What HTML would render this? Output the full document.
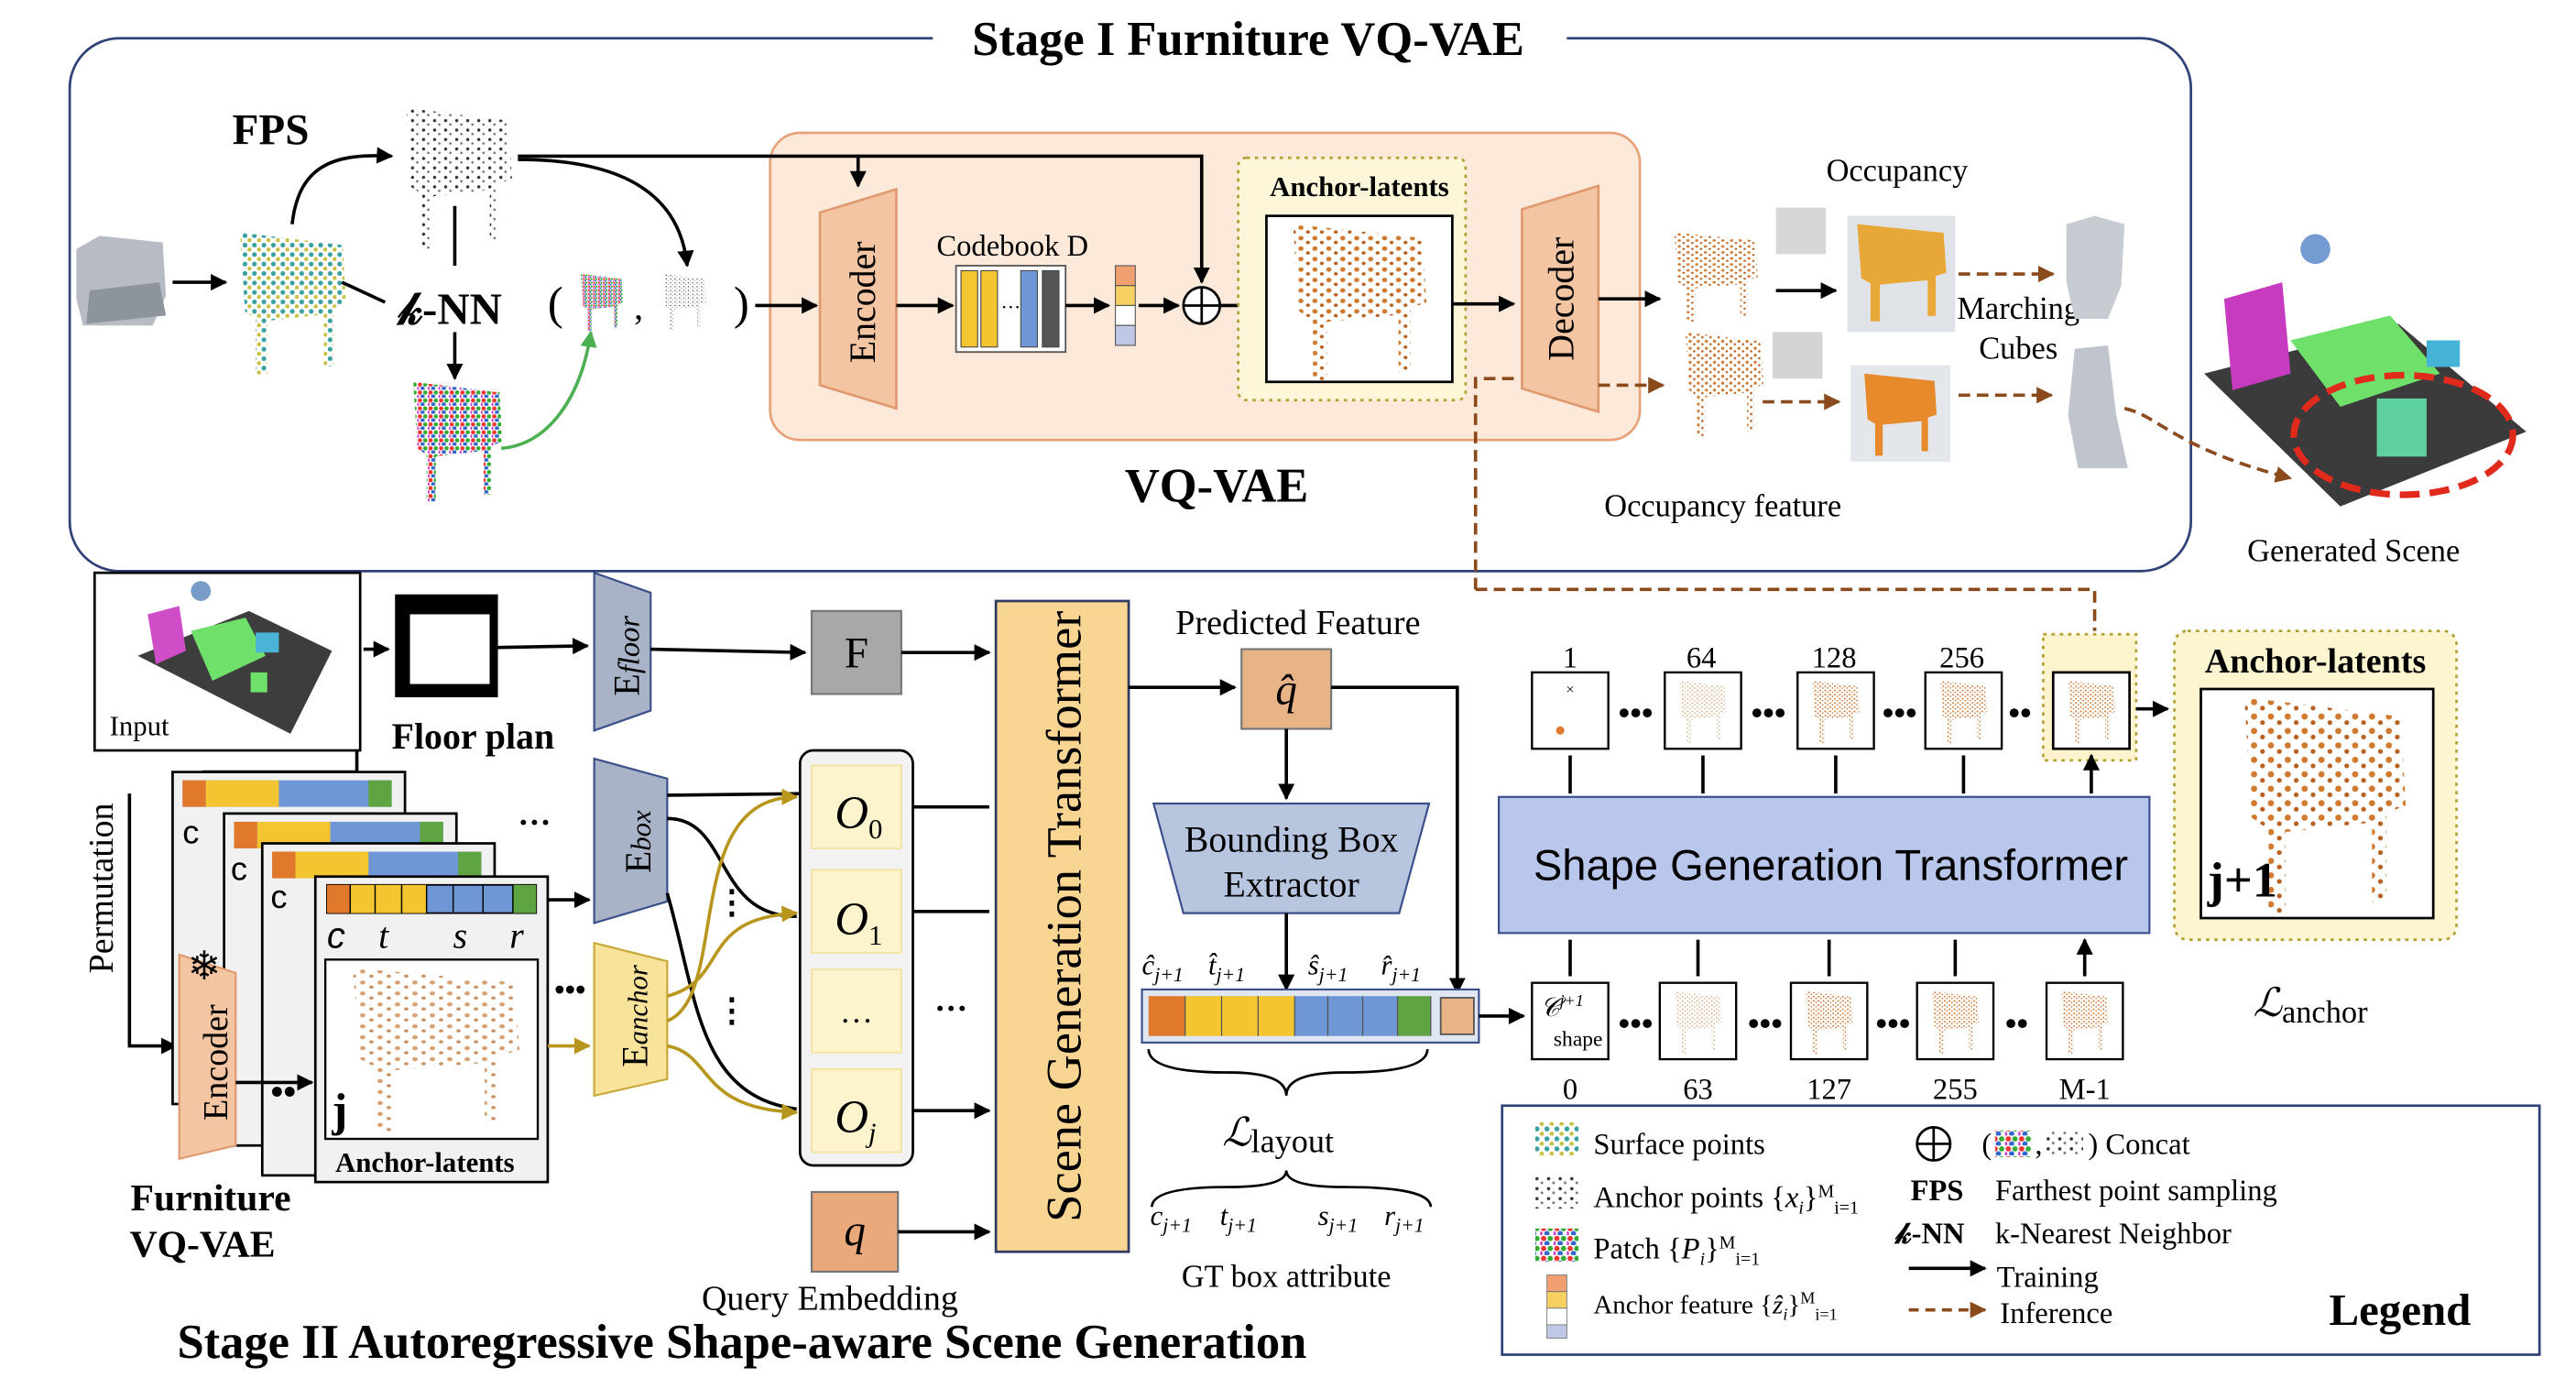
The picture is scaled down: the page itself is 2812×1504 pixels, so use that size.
<!DOCTYPE html>
<html><head><meta charset="utf-8"><style>
html,body{margin:0;padding:0;background:#fff;width:2812px;height:1504px;overflow:hidden}
svg{display:block}
text{font-family:"Liberation Serif",serif;fill:#000}
.s{font-family:"Liberation Sans",sans-serif}
</style></head><body>
<svg width="2812" height="1504" viewBox="0 0 1552 830" xmlns="http://www.w3.org/2000/svg">
<defs>
<marker id="a" viewBox="0 0 10 10" refX="9" refY="5" markerWidth="5" markerHeight="5" orient="auto"><path d="M0,0L10,5L0,10z" fill="#000"/></marker>
<marker id="ab" viewBox="0 0 10 10" refX="9" refY="5" markerWidth="5" markerHeight="5" orient="auto"><path d="M0,0L10,5L0,10z" fill="#8b4a1c"/></marker>
<marker id="ag" viewBox="0 0 10 10" refX="9" refY="5" markerWidth="5" markerHeight="5" orient="auto"><path d="M0,0L10,5L0,10z" fill="#b8961e"/></marker>
<marker id="agr" viewBox="0 0 10 10" refX="9" refY="5" markerWidth="5" markerHeight="5" orient="auto"><path d="M0,0L10,5L0,10z" fill="#4caf50"/></marker>
<pattern id="po" width="7" height="6" patternUnits="userSpaceOnUse"><circle cx="2" cy="2" r="1.3" fill="#d07a30"/><circle cx="5.5" cy="4.5" r="1" fill="#b86020"/></pattern>
<pattern id="pg" width="7" height="6" patternUnits="userSpaceOnUse"><circle cx="2" cy="2" r="1" fill="#333"/><circle cx="5" cy="4.5" r="0.8" fill="#777"/></pattern>
<pattern id="pr" width="8" height="6" patternUnits="userSpaceOnUse"><circle cx="2" cy="2" r="1.6" fill="#e33"/><circle cx="6" cy="2" r="1.6" fill="#3a3"/><circle cx="4" cy="5" r="1.6" fill="#36c"/><circle cx="0" cy="5" r="1.4" fill="#c3c"/></pattern>
<pattern id="pt" width="6" height="6" patternUnits="userSpaceOnUse"><circle cx="2" cy="2" r="1.5" fill="#3aa0a0"/><circle cx="5" cy="5" r="1.4" fill="#c8c040"/></pattern>
<pattern id="pl" width="7" height="6" patternUnits="userSpaceOnUse"><circle cx="2" cy="2" r="1.1" fill="#d8a070"/><circle cx="5.5" cy="4.5" r="0.9" fill="#c89060"/></pattern>
<g id="chair"><path d="M5,0 L70,8 L72,45 L64,48 L64,85 L58,85 L58,52 L22,56 L22,90 L15,90 L15,55 L8,50 Z"/></g>
</defs>

<rect x="42" y="23" width="1278" height="321" rx="30" fill="none" stroke="#2f4177" stroke-width="1.5"/>
<rect x="562" y="6" width="382" height="34" fill="#fff"/>
<text x="752" y="33" font-size="29" font-weight="bold" text-anchor="middle">Stage I  Furniture VQ-VAE</text>

<rect x="464" y="80" width="524" height="185" rx="18" fill="#fce9da" stroke="#e6a37a" stroke-width="1.5"/>
<text x="733" y="302" font-size="29" font-weight="bold" text-anchor="middle">VQ-VAE</text>

<path d="M46,150 L60,142 L98,146 L100,178 L92,196 L50,196 L46,180 Z" fill="#b7bcc4"/>
<path d="M54,175 L96,170 L100,190 L52,195Z" fill="#8e949c"/>
<line x1="104" y1="170" x2="136" y2="170" stroke="#000" stroke-width="2" marker-end="url(#a)"/>
<g transform="translate(140,140) scale(0.95)" fill="url(#pt)"><use href="#chair"/></g>
<text x="140" y="87" font-size="26" font-weight="bold">FPS</text>
<path d="M176,135 C180,100 200,92 236,94" fill="none" stroke="#000" stroke-width="2" marker-end="url(#a)"/>
<g transform="translate(240,65) scale(0.95)" fill="url(#pg)"><use href="#chair"/></g>
<line x1="274" y1="124" x2="274" y2="160" stroke="#000" stroke-width="2"/>
<text x="240" y="195" font-size="27" font-weight="bold">𝓀-NN</text>
<path d="M206,170 L232,182" stroke="#000" stroke-width="2"/>
<line x1="274" y1="200" x2="274" y2="228" stroke="#000" stroke-width="2" marker-end="url(#a)"/>
<g transform="translate(245,230) scale(0.8)" fill="url(#pr)"><use href="#chair"/></g>
<path d="M302,270 C330,268 350,240 356,200" fill="none" stroke="#4caf50" stroke-width="2" marker-end="url(#agr)"/>
<text x="330" y="192" font-size="28">(</text>
<g transform="translate(348,165) scale(0.38)" fill="url(#pr)"><use href="#chair"/></g>
<text x="382" y="192" font-size="22">,</text>
<g transform="translate(398,165) scale(0.38)" fill="url(#pg)"><use href="#chair"/></g>
<text x="442" y="192" font-size="28">)</text>
<path d="M312,96 C380,96 410,120 414,160" fill="none" stroke="#000" stroke-width="2" marker-end="url(#a)"/>
<line x1="455" y1="184" x2="492" y2="184" stroke="#000" stroke-width="2" marker-end="url(#a)"/>
<path d="M312,94 L724,94 L724,170" fill="none" stroke="#000" stroke-width="2" marker-end="url(#a)"/>
<line x1="517" y1="94" x2="517" y2="112" stroke="#000" stroke-width="2" marker-end="url(#a)"/>

<path d="M494,128 L540,114 L540,246 L494,232 Z" fill="#f3c5a2" stroke="#e09a70" stroke-width="1.5"/>
<text transform="translate(527,182) rotate(-90)" font-size="22" text-anchor="middle">Encoder</text>
<line x1="540" y1="184" x2="574" y2="184" stroke="#000" stroke-width="2" marker-end="url(#a)"/>
<text x="610" y="154" font-size="18" text-anchor="middle">Codebook D</text>
<rect x="576" y="160" width="66" height="52" fill="#fff" stroke="#555"/>
<rect x="579" y="163" width="10" height="46" fill="#f3c530" stroke="#444" stroke-width=".6"/>
<rect x="591" y="163" width="10" height="46" fill="#f3c530" stroke="#444" stroke-width=".6"/>
<text x="603" y="189" font-size="12">···</text>
<rect x="615" y="163" width="10" height="46" fill="#6f97d6" stroke="#444" stroke-width=".6"/>
<rect x="628" y="163" width="10" height="46" fill="#555" stroke="#444" stroke-width=".6"/>
<line x1="642" y1="184" x2="668" y2="184" stroke="#000" stroke-width="2" marker-end="url(#a)"/>
<rect x="672" y="160" width="12" height="12" fill="#f0a070" stroke="#555" stroke-width=".6"/>
<rect x="672" y="172" width="12" height="12" fill="#f6d060" stroke="#555" stroke-width=".6"/>
<rect x="672" y="184" width="12" height="12" fill="#fff" stroke="#555" stroke-width=".6"/>
<rect x="672" y="196" width="12" height="12" fill="#c0c8e6" stroke="#555" stroke-width=".6"/>
<line x1="686" y1="184" x2="710" y2="184" stroke="#000" stroke-width="2" marker-end="url(#a)"/>
<circle cx="724" cy="184" r="11" fill="#fff" stroke="#000" stroke-width="1.5"/>
<path d="M713,184H735M724,173V195" stroke="#000" stroke-width="1.5"/>
<line x1="735" y1="184" x2="762" y2="184" stroke="#000" stroke-width="2" marker-end="url(#a)"/>
<rect x="746" y="95" width="137" height="146" rx="5" fill="#fdf6d8" stroke="#b3a035" stroke-width="1.5" stroke-dasharray="2,3"/>
<text x="819" y="118" font-size="17" font-weight="bold" text-anchor="middle">Anchor-latents</text>
<rect x="763" y="130" width="112" height="100" fill="#fff" stroke="#000" stroke-width="1.5"/>
<g transform="translate(773,135) scale(1.2,1.05)" fill="url(#po)"><use href="#chair"/></g>
<line x1="875" y1="183" x2="912" y2="183" stroke="#000" stroke-width="2" marker-end="url(#a)"/>
<path d="M917,126 L963,112 L963,248 L917,234 Z" fill="#f3c5a2" stroke="#e09a70" stroke-width="1.5"/>
<text transform="translate(948,180) rotate(-90)" font-size="22" text-anchor="middle">Decoder</text>
<line x1="963" y1="180" x2="1000" y2="180" stroke="#000" stroke-width="2" marker-end="url(#a)"/>
<path d="M889,355 L889,228 L914,228" fill="none" stroke="#8b4a1c" stroke-width="2" stroke-dasharray="7,4"/>
<line x1="963" y1="232" x2="1002" y2="232" stroke="#8b4a1c" stroke-width="2" stroke-dasharray="7,4" marker-end="url(#ab)"/>
<text x="1143" y="109" font-size="19" text-anchor="middle">Occupancy</text>
<g transform="translate(1005,140) scale(0.75,0.6)" fill="url(#po)"><use href="#chair"/></g>
<rect x="1070" y="125" width="30" height="28" fill="#bbb" opacity=".6"/>
<line x1="1070" y1="175" x2="1106" y2="175" stroke="#000" stroke-width="2" marker-end="url(#a)"/>
<rect x="1113" y="130" width="65" height="70" fill="#dfe2e6"/>
<g transform="translate(1115,135) scale(0.8,0.65)" fill="#e8a838"><use href="#chair"/></g>
<text x="1216" y="192" font-size="19" text-anchor="middle">Marching</text>
<text x="1216" y="216" font-size="19" text-anchor="middle">Cubes</text>
<line x1="1180" y1="165" x2="1237" y2="165" stroke="#8b4a1c" stroke-width="2" stroke-dasharray="7,4" marker-end="url(#ab)"/>
<path d="M1245,135 L1262,130 L1280,135 L1278,172 L1270,192 L1250,192 L1245,170Z" fill="#c7cbd2"/>
<g transform="translate(1012,200) scale(0.7,0.7)" fill="url(#po)"><use href="#chair"/></g>
<rect x="1068" y="200" width="30" height="28" fill="#aaa" opacity=".5"/>
<line x1="1062" y1="242" x2="1108" y2="242" stroke="#8b4a1c" stroke-width="2" stroke-dasharray="7,4" marker-end="url(#ab)"/>
<rect x="1115" y="220" width="60" height="58" fill="#e3e6ea"/>
<g transform="translate(1120,225) scale(0.65,0.55)" fill="#e68a2c"><use href="#chair"/></g>
<line x1="1180" y1="238" x2="1236" y2="238" stroke="#8b4a1c" stroke-width="2" stroke-dasharray="7,4" marker-end="url(#ab)"/>
<path d="M1250,210 L1270,208 L1275,250 L1282,282 L1252,282 L1246,250Z" fill="#c0c5cd"/>
<path d="M1280,246 C1300,250 1310,270 1380,288" fill="none" stroke="#8b4a1c" stroke-width="2" stroke-dasharray="7,4" marker-end="url(#ab)"/>
<text x="1038" y="311" font-size="19" text-anchor="middle">Occupancy feature</text>
<path d="M1328,225 L1445,195 L1522,260 L1410,305 Z" fill="#3b3b3b"/>
<path d="M1340,180 L1375,170 L1380,225 L1345,235Z" fill="#c63bc0"/>
<path d="M1380,205 L1440,190 L1470,225 L1410,245Z" fill="#6fe06a"/>
<rect x="1462" y="205" width="20" height="16" fill="#45b3d6"/>
<rect x="1432" y="240" width="30" height="35" fill="#5fd0a0"/>
<circle cx="1395" cy="150" r="9" fill="#3a70c0" opacity=".7"/>
<ellipse cx="1448" cy="262" rx="66" ry="36" fill="none" stroke="#e02a1c" stroke-width="4" stroke-dasharray="12,6"/>
<text x="1418" y="338" font-size="19" text-anchor="middle">Generated Scene</text>
<path d="M889,355 L1262,355 L1262,380" fill="none" stroke="#8b4a1c" stroke-width="2" stroke-dasharray="7,4"/>

<rect x="57" y="345" width="160" height="107" fill="#fff" stroke="#000" stroke-width="1.5"/>
<path d="M83,395 L150,368 L200,392 L175,442 Z" fill="#3d3d3d"/>
<path d="M89,370 L108,365 L112,392 L94,400Z" fill="#d04dc8"/>
<path d="M115,380 L148,372 L160,395 L128,410Z" fill="#6fe06a"/>
<rect x="154" y="381" width="14" height="12" fill="#4bb4d6"/>
<rect x="151" y="405" width="10" height="12" fill="#6fe06a"/>
<circle cx="121" cy="356" r="6" fill="#4070b0" opacity=".7"/>
<text x="66" y="443" font-size="17">Input</text>
<line x1="219" y1="391" x2="234" y2="391" stroke="#000" stroke-width="2" marker-end="url(#a)"/>
<rect x="238" y="358" width="62" height="62" fill="#000"/>
<rect x="247" y="370" width="48" height="42" fill="#fff"/>
<text x="285" y="451" font-size="22" font-weight="bold" text-anchor="middle">Floor plan</text>
<line x1="300" y1="390" x2="354" y2="389" stroke="#000" stroke-width="2" marker-end="url(#a)"/>
<path d="M358,345 L392,357 L392,428 L358,440Z" fill="#a9b3c8" stroke="#3b4f8a" stroke-width="1.2"/>
<text transform="translate(385,395) rotate(-90)" font-size="22" text-anchor="middle">E<tspan font-style="italic" font-size="18">floor</tspan></text>
<line x1="392" y1="391" x2="485" y2="393" stroke="#000" stroke-width="2" marker-end="url(#a)"/>
<rect x="489" y="368" width="54" height="50" fill="#a8a8a8" stroke="#777" stroke-width="1.2"/>
<text x="516" y="402" font-size="26" text-anchor="middle">F</text>
<line x1="543" y1="393" x2="596" y2="393" stroke="#000" stroke-width="2" marker-end="url(#a)"/>

<path d="M215,452 L215,465 L123,465 L123,630 L104,630" fill="none" stroke="#000" stroke-width="2"/>
<path d="M78,478 L78,630 L106,630" fill="none" stroke="#000" stroke-width="2" marker-end="url(#a)"/>
<text transform="translate(68,535) rotate(-90)" font-size="21" text-anchor="middle">Permutation</text>
<g>
<rect x="104" y="465" width="140" height="200" fill="#f1f1f1" stroke="#000" stroke-width="1.5"/>
<rect x="110" y="470" width="126" height="16" fill="#6f97d6"/><rect x="110" y="470" width="14" height="16" fill="#e0792c"/><rect x="124" y="470" width="44" height="16" fill="#f2c531"/><rect x="222" y="470" width="14" height="16" fill="#5ea443"/>
<text x="110" y="508" font-size="20" fill="#e0792c" class="s">c</text>
<rect x="135" y="490" width="140" height="200" fill="#f1f1f1" stroke="#000" stroke-width="1.5"/>
<rect x="141" y="495" width="126" height="16" fill="#6f97d6"/><rect x="141" y="495" width="14" height="16" fill="#e0792c"/><rect x="155" y="495" width="44" height="16" fill="#f2c531"/><rect x="253" y="495" width="14" height="16" fill="#5ea443"/>
<text x="139" y="530" font-size="20" fill="#e0792c" class="s">c</text>
<rect x="158" y="508" width="140" height="200" fill="#f1f1f1" stroke="#000" stroke-width="1.5"/>
<rect x="164" y="513" width="126" height="16" fill="#6f97d6"/><rect x="164" y="513" width="14" height="16" fill="#e0792c"/><rect x="178" y="513" width="44" height="16" fill="#f2c531"/><rect x="276" y="513" width="14" height="16" fill="#5ea443"/>
<text x="163" y="547" font-size="20" fill="#e0792c" class="s">c</text>
<rect x="190" y="528" width="140" height="184" fill="#f1f1f1" stroke="#000" stroke-width="1.5"/>
<rect x="197" y="533" width="126" height="17" fill="#6f97d6" stroke="#000"/><rect x="197" y="533" width="14" height="17" fill="#e0792c"/><rect x="211" y="533" width="46" height="17" fill="#f2c531"/><rect x="309" y="533" width="14" height="17" fill="#5ea443"/>
<path d="M211,533V550M226,533V550M242,533V550M257,533V550M273,533V550M291,533V550M309,533V550" stroke="#000" stroke-width=".8"/>
<text x="197" y="571" font-size="22" fill="#e0792c" font-style="italic" class="s">c</text>
<text x="228" y="571" font-size="22" fill="#f2c531" font-style="italic">t</text>
<text x="273" y="571" font-size="22" fill="#6f97d6" font-style="italic">s</text>
<text x="307" y="571" font-size="22" fill="#5ea443" font-style="italic">r</text>
<rect x="196" y="578" width="128" height="108" fill="#fff" stroke="#000" stroke-width="1.3"/>
<g transform="translate(205,583) scale(1.5,1.1)" fill="url(#pl)"><use href="#chair"/></g>
<text x="200" y="678" font-size="28" font-weight="bold">j</text>
<text x="256" y="706" font-size="17" font-weight="bold" text-anchor="middle">Anchor-latents</text>
<text x="312" y="502" font-size="20" font-weight="bold">···</text>
<text x="163" y="665" font-size="22" font-weight="bold">••</text>
</g>
<path d="M108,575 L142,586 L142,690 L108,698Z" fill="#f3c5a2" stroke="#e09a70" stroke-width="1.2"/>
<text x="113" y="590" font-size="24" fill="#5a8ed6">❄</text>
<text transform="translate(137,640) rotate(-90)" font-size="21" text-anchor="middle">Encoder</text>
<line x1="142" y1="652" x2="188" y2="652" stroke="#000" stroke-width="2" marker-end="url(#a)"/>
<text x="127" y="729" font-size="23" font-weight="bold" text-anchor="middle">Furniture</text>
<text x="122" y="757" font-size="23" font-weight="bold" text-anchor="middle">VQ-VAE</text>
<line x1="330" y1="542" x2="355" y2="542" stroke="#000" stroke-width="2" marker-end="url(#a)"/>
<line x1="330" y1="630" x2="355" y2="630" stroke="#b8961e" stroke-width="2" marker-end="url(#ag)"/>
<text x="334" y="602" font-size="18" fill="#b8961e" font-weight="bold">•••</text>

<path d="M358,457 L402,469 L402,543 L358,556Z" fill="#a9b3c8" stroke="#3b4f8a" stroke-width="1.2"/>
<text transform="translate(392,507) rotate(-90)" font-size="22" text-anchor="middle">E<tspan font-style="italic" font-size="17">box</tspan></text>
<path d="M358,568 L402,579 L402,650 L358,660Z" fill="#f7e39a" stroke="#c8a838" stroke-width="1.2"/>
<text transform="translate(390,612) rotate(-90)" font-size="22" text-anchor="middle">E<tspan font-style="italic" font-size="17">anchor</tspan></text>
<path d="M402,479 L484,478" fill="none" stroke="#000" stroke-width="2"/>
<path d="M402,493 C440,493 430,552 480,552" fill="none" stroke="#000" stroke-width="2"/>
<path d="M402,538 C420,600 420,660 480,668" fill="none" stroke="#000" stroke-width="2"/>
<path d="M402,615 C440,600 410,480 480,480" fill="none" stroke="#b8961e" stroke-width="2" marker-end="url(#ag)"/>
<path d="M402,600 C440,590 420,553 480,550" fill="none" stroke="#b8961e" stroke-width="2" marker-end="url(#ag)"/>
<path d="M402,630 C430,635 420,668 480,670" fill="none" stroke="#b8961e" stroke-width="2" marker-end="url(#ag)"/>
<text x="431" y="550" font-size="20" font-weight="bold">⋮</text>
<text x="431" y="615" font-size="20" font-weight="bold" fill="#b8961e">⋮</text>
<rect x="482" y="452" width="68" height="250" rx="8" fill="#f2f2f2" stroke="#000" stroke-width="1.5"/>
<rect x="489" y="461" width="54" height="50" fill="#fdf3cc" stroke="#f3e3a0"/>
<rect x="489" y="524" width="54" height="50" fill="#fdf3cc" stroke="#f3e3a0"/>
<rect x="489" y="584" width="54" height="50" fill="#fdf3cc" stroke="#f3e3a0"/>
<rect x="489" y="644" width="54" height="50" fill="#fdf3cc" stroke="#f3e3a0"/>
<text x="503" y="499" font-size="28" font-style="italic">O<tspan font-size="17" dy="6" font-style="normal">0</tspan></text>
<text x="503" y="563" font-size="28" font-style="italic">O<tspan font-size="17" dy="6" font-style="normal">1</tspan></text>
<text x="516" y="616" font-size="20" text-anchor="middle">…</text>
<text x="503" y="682" font-size="28" font-style="italic">O<tspan font-size="17" dy="6" font-style="italic">j</tspan></text>
<path d="M550,486H596M550,549H596M550,669H596" stroke="#000" stroke-width="2" marker-end="url(#a)"/>
<text x="573" y="614" font-size="20" font-weight="bold" text-anchor="middle">···</text>
<rect x="489" y="718" width="52" height="48" fill="#e9a97b" stroke="#777" stroke-width="1.2"/>
<text x="515" y="750" font-size="26" font-style="italic" text-anchor="middle">q</text>
<line x1="541" y1="742" x2="596" y2="742" stroke="#000" stroke-width="2" marker-end="url(#a)"/>
<text x="500" y="789" font-size="21" text-anchor="middle">Query Embedding</text>
<rect x="600" y="362" width="80" height="392" fill="#f9d593" stroke="#2f3b60" stroke-width="1.5"/>
<text transform="translate(651,552) rotate(-90)" font-size="30" text-anchor="middle">Scene Generation Transformer</text>
<text x="782" y="382" font-size="21" text-anchor="middle">Predicted Feature</text>
<line x1="680" y1="414" x2="744" y2="414" stroke="#000" stroke-width="2" marker-end="url(#a)"/>
<rect x="748" y="391" width="54" height="48" fill="#e8b386" stroke="#777" stroke-width="1.2"/>
<text x="775" y="424" font-size="26" font-style="italic" text-anchor="middle">q̂</text>
<path d="M802,414 L878,414 L878,598" fill="none" stroke="#000" stroke-width="2" marker-end="url(#a)"/>
<line x1="775" y1="439" x2="775" y2="481" stroke="#000" stroke-width="2" marker-end="url(#a)"/>
<path d="M695,484 L861,484 L843,550 L713,550Z" fill="#b8c5df" stroke="#3b4f8a" stroke-width="1.2"/>
<text x="778" y="513" font-size="22" text-anchor="middle">Bounding Box</text>
<text x="778" y="540" font-size="22" text-anchor="middle">Extractor</text>
<line x1="775" y1="550" x2="775" y2="596" stroke="#000" stroke-width="2" marker-end="url(#a)"/>
<text x="688" y="587" font-size="17" font-style="italic" fill="#e0792c">ĉ<tspan font-size="12" dy="4">j+1</tspan></text>
<text x="728" y="587" font-size="17" font-style="italic" fill="#e3b52a">t̂<tspan font-size="12" dy="4">j+1</tspan></text>
<text x="788" y="587" font-size="17" font-style="italic" fill="#5a8ed6">ŝ<tspan font-size="12" dy="4">j+1</tspan></text>
<text x="832" y="587" font-size="17" font-style="italic" fill="#5ea443">r̂<tspan font-size="12" dy="4">j+1</tspan></text>
<rect x="688" y="596" width="203" height="32" fill="#dfe6f2" stroke="#3b4f8a" stroke-width="1.2"/>
<rect x="692" y="600" width="22" height="24" fill="#e0792c"/>
<rect x="714" y="600" width="66" height="24" fill="#f2c531"/>
<rect x="780" y="600" width="62" height="24" fill="#6f97d6"/>
<rect x="842" y="600" width="20" height="24" fill="#5ea443"/>
<path d="M714,600V624M736,600V624M758,600V624M780,600V624M800,600V624M821,600V624M842,600V624M862,600V624" stroke="#555" stroke-width=".7"/>
<rect x="868" y="601" width="20" height="22" fill="#e8b386" stroke="#555"/>
<path d="M692,632 Q692,646 740,646 Q775,646 775,660 Q775,646 810,646 Q860,646 860,632" fill="none" stroke="#000" stroke-width="1.5"/>
<text x="770" y="690" font-size="24" font-style="italic" text-anchor="middle">ℒ<tspan font-style="normal" font-size="20" dy="4">layout</tspan></text>
<path d="M694,727 Q694,715 740,715 Q775,715 775,705 Q775,715 810,715 Q862,715 862,727" fill="none" stroke="#000" stroke-width="1.5"/>
<text x="693" y="738" font-size="17" font-style="italic" fill="#e0792c">c<tspan font-size="12" dy="4">j+1</tspan></text>
<text x="735" y="738" font-size="17" font-style="italic" fill="#e3b52a">t<tspan font-size="12" dy="4">j+1</tspan></text>
<text x="794" y="738" font-size="17" font-style="italic" fill="#5a8ed6">s<tspan font-size="12" dy="4">j+1</tspan></text>
<text x="834" y="738" font-size="17" font-style="italic" fill="#5ea443">r<tspan font-size="12" dy="4">j+1</tspan></text>
<text x="775" y="775" font-size="19" text-anchor="middle">GT box attribute</text>

<line x1="891" y1="612" x2="918" y2="612" stroke="#000" stroke-width="2" marker-end="url(#a)"/>
<rect x="903" y="480" width="392" height="82" fill="#b9c7ec" stroke="#3b4f8a" stroke-width="1.2"/>
<text x="1103" y="530" font-size="26" text-anchor="middle" class="s">Shape Generation Transformer</text>
<g font-size="18" text-anchor="middle">
<text x="946" y="402">1</text><text x="1025" y="402">64</text><text x="1105" y="402">128</text><text x="1182" y="402">256</text><text x="1259" y="402">M</text>
<text x="946" y="662">0</text><text x="1023" y="662">63</text><text x="1102" y="662">127</text><text x="1178" y="662">255</text><text x="1256" y="662">M-1</text>
</g>
<rect x="1231" y="382" width="56" height="76" fill="#fdf3cc" stroke="#b3a035" stroke-width="1.5" stroke-dasharray="2,3"/>
<rect x="923" y="405" width="46" height="46" fill="#fff" stroke="#000" stroke-width="1.3"/>
<text x="946" y="418" font-size="9" text-anchor="middle">×</text><circle cx="940" cy="440" r="2.5" fill="#e0792c"/>
<rect x="1003" y="405" width="46" height="46" fill="#fff" stroke="#000" stroke-width="1.3"/>
<g transform="translate(1010,410) scale(0.42)" fill="url(#pl)"><use href="#chair"/></g>
<rect x="1083" y="405" width="46" height="46" fill="#fff" stroke="#000" stroke-width="1.3"/>
<g transform="translate(1090,410) scale(0.42)" fill="url(#po)"><use href="#chair"/></g>
<rect x="1160" y="405" width="46" height="46" fill="#fff" stroke="#000" stroke-width="1.3"/>
<g transform="translate(1167,410) scale(0.42)" fill="url(#po)"><use href="#chair"/></g>
<rect x="1237" y="405" width="46" height="46" fill="#fff" stroke="#000" stroke-width="1.5"/>
<g transform="translate(1244,410) scale(0.42)" fill="url(#po)"><use href="#chair"/></g>
<g font-size="20" font-weight="bold"><text x="975" y="436">•••</text><text x="1055" y="436">•••</text><text x="1134" y="436">•••</text><text x="1210" y="436">••</text>
<text x="975" y="623">•••</text><text x="1053" y="623">•••</text><text x="1130" y="623">•••</text><text x="1208" y="623">••</text></g>
<path d="M946,478V455M1026,478V455M1106,478V455M1183,478V455M1260,478V455" stroke="#000" stroke-width="2" marker-end="url(#a)"/>
<path d="M946,588V566M1023,588V566M1102,588V566M1178,588V566M1256,588V566" stroke="#000" stroke-width="2" marker-end="url(#a)"/>
<rect x="923" y="592" width="46" height="46" fill="#fff" stroke="#000" stroke-width="1.3"/>
<text x="928" y="612" font-size="16" font-style="italic">𝒞<tspan font-size="10" dy="-6">j+1</tspan></text>
<text x="936" y="630" font-size="13">shape</text>
<rect x="1000" y="592" width="46" height="46" fill="#fff" stroke="#000" stroke-width="1.3"/>
<g transform="translate(1007,597) scale(0.42)" fill="url(#pl)"><use href="#chair"/></g>
<rect x="1079" y="592" width="46" height="46" fill="#fff" stroke="#000" stroke-width="1.3"/>
<g transform="translate(1086,597) scale(0.42)" fill="url(#po)"><use href="#chair"/></g>
<rect x="1155" y="592" width="46" height="46" fill="#fff" stroke="#000" stroke-width="1.3"/>
<g transform="translate(1162,597) scale(0.42)" fill="url(#po)"><use href="#chair"/></g>
<rect x="1233" y="592" width="46" height="46" fill="#fff" stroke="#000" stroke-width="1.3"/>
<g transform="translate(1240,597) scale(0.42)" fill="url(#po)"><use href="#chair"/></g>
<line x1="1287" y1="427" x2="1306" y2="427" stroke="#000" stroke-width="2" marker-end="url(#a)"/>
<rect x="1310" y="380" width="170" height="186" rx="8" fill="#fdf5cf" stroke="#b3a035" stroke-width="1.5" stroke-dasharray="2,3"/>
<text x="1395" y="405" font-size="21" font-weight="bold" text-anchor="middle">Anchor-latents</text>
<rect x="1326" y="415" width="140" height="138" fill="#fff" stroke="#000" stroke-width="1.5"/>
<g transform="translate(1345,420) scale(1.45,1.45)" fill="url(#po)"><use href="#chair"/></g>
<text x="1330" y="540" font-size="30" font-weight="bold">j+1</text>
<text x="1392" y="612" font-size="24" font-style="italic" text-anchor="middle">ℒ<tspan font-style="normal" font-size="19" dy="4">anchor</tspan></text>

<rect x="905" y="666" width="625" height="150" fill="#fff" stroke="#2f4177" stroke-width="1.5"/>
<rect x="925" y="676" width="26" height="20" fill="url(#pt)"/>
<text x="960" y="695" font-size="18">Surface points</text>
<rect x="925" y="708" width="26" height="20" fill="url(#pg)"/>
<text x="960" y="727" font-size="18">Anchor points {<tspan font-style="italic">x<tspan font-size="11" dy="4">i</tspan></tspan><tspan dy="-4">}</tspan><tspan font-size="11" dy="-6">M</tspan><tspan font-size="11" dy="10">i=1</tspan></text>
<rect x="925" y="740" width="26" height="20" fill="url(#pr)"/>
<text x="960" y="758" font-size="18">Patch {<tspan font-style="italic">P<tspan font-size="11" dy="4">i</tspan></tspan><tspan dy="-4">}</tspan><tspan font-size="11" dy="-6">M</tspan><tspan font-size="11" dy="10">i=1</tspan></text>
<rect x="932" y="768" width="12" height="10" fill="#f0a070" stroke="#777" stroke-width=".5"/><rect x="932" y="778" width="12" height="10" fill="#f6d060" stroke="#777" stroke-width=".5"/><rect x="932" y="788" width="12" height="10" fill="#fff" stroke="#777" stroke-width=".5"/><rect x="932" y="798" width="12" height="8" fill="#c0c8e6" stroke="#777" stroke-width=".5"/>
<text x="960" y="791" font-size="16">Anchor feature {<tspan font-style="italic">ẑ<tspan font-size="10" dy="4">i</tspan></tspan><tspan dy="-4">}</tspan><tspan font-size="10" dy="-6">M</tspan><tspan font-size="10" dy="10">i=1</tspan></text>
<circle cx="1165" cy="689" r="10" fill="#fff" stroke="#000" stroke-width="1.5"/><path d="M1155,689H1175M1165,679V699" stroke="#000" stroke-width="1.5"/>
<text x="1194" y="695" font-size="18">(</text><rect x="1202" y="681" width="22" height="16" fill="url(#pr)"/><text x="1226" y="695" font-size="18">,</text><rect x="1233" y="681" width="22" height="16" fill="url(#pg)"/><text x="1258" y="695" font-size="18">) Concat</text>
<text x="1151" y="723" font-size="18" font-weight="bold">FPS</text><text x="1202" y="723" font-size="18">Farthest point sampling</text>
<text x="1142" y="749" font-size="18" font-weight="bold">𝓀-NN</text><text x="1202" y="749" font-size="18">k-Nearest Neighbor</text>
<line x1="1150" y1="764" x2="1196" y2="764" stroke="#000" stroke-width="2" marker-end="url(#a)"/><text x="1203" y="775" font-size="18">Training</text>
<line x1="1150" y1="789" x2="1196" y2="789" stroke="#8b4a1c" stroke-width="2" stroke-dasharray="6,4" marker-end="url(#ab)"/><text x="1205" y="797" font-size="18">Inference</text>
<text x="1446" y="798" font-size="27" font-weight="bold" text-anchor="middle">Legend</text>

<text x="447" y="818" font-size="29" font-weight="bold" text-anchor="middle">Stage II Autoregressive Shape-aware Scene Generation</text>
</svg>
</body></html>
